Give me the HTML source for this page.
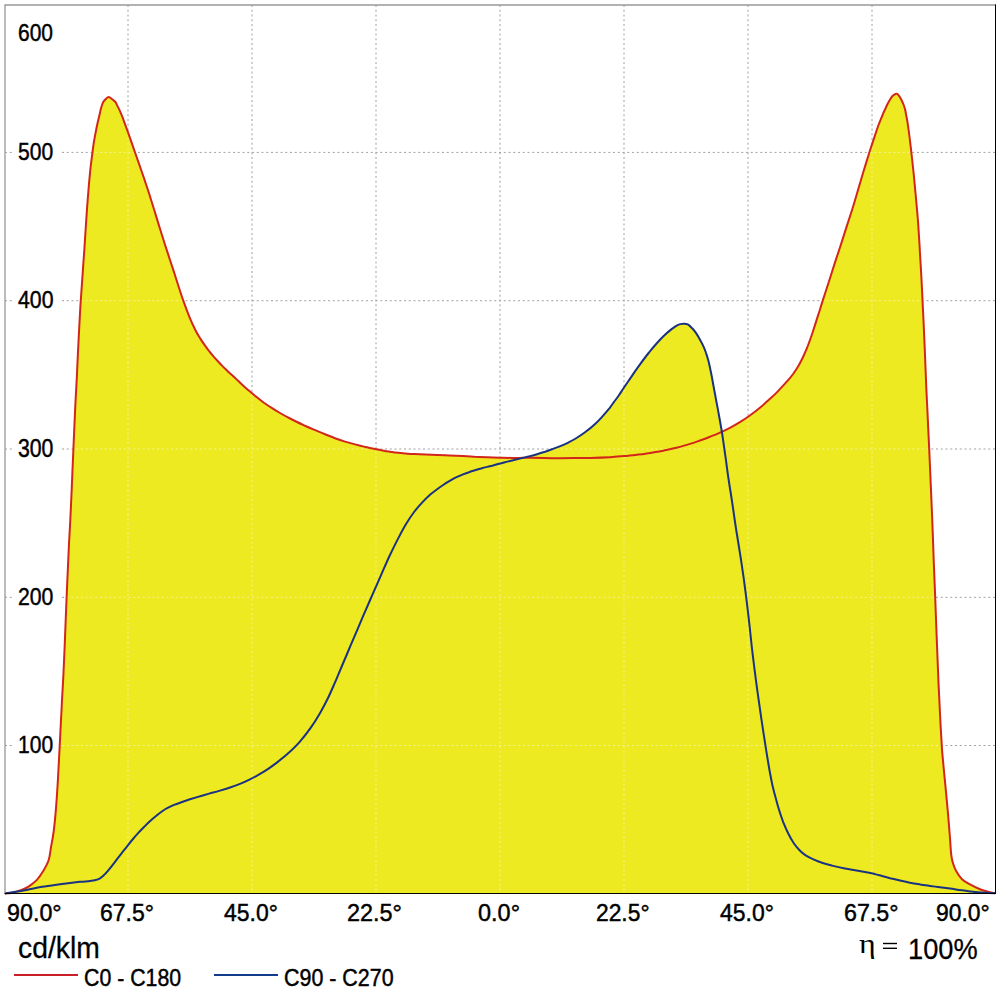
<!DOCTYPE html>
<html><head><meta charset="utf-8"><style>
html,body{margin:0;padding:0;background:#fff;width:1001px;height:1001px;overflow:hidden}
svg{position:absolute;left:0;top:0}
.t{position:absolute;font-family:"Liberation Sans",sans-serif;line-height:1;white-space:pre;color:#000;transform-origin:0 0;-webkit-text-stroke:0.45px #000}
</style></head><body>
<svg width="1001" height="1001" viewBox="0 0 1001 1001">
<g stroke="#A0A0A0" stroke-width="1" stroke-dasharray="2 2.75" fill="none">
<line x1="5.0" y1="152.4" x2="995.0" y2="152.4"/>
<line x1="5.0" y1="300.7" x2="995.0" y2="300.7"/>
<line x1="5.0" y1="449.0" x2="995.0" y2="449.0"/>
<line x1="5.0" y1="597.3" x2="995.0" y2="597.3"/>
<line x1="5.0" y1="745.5" x2="995.0" y2="745.5"/>
<line x1="128" y1="5.0" x2="128" y2="893.4"/>
<line x1="252" y1="5.0" x2="252" y2="893.4"/>
<line x1="376" y1="5.0" x2="376" y2="893.4"/>
<line x1="500" y1="5.0" x2="500" y2="893.4"/>
<line x1="624" y1="5.0" x2="624" y2="893.4"/>
<line x1="748" y1="5.0" x2="748" y2="893.4"/>
<line x1="872" y1="5.0" x2="872" y2="893.4"/>
</g>
<rect x="13" y="736.3" width="48" height="18" fill="#fff"/>
<rect x="13" y="588.3" width="48" height="18" fill="#fff"/>
<rect x="13" y="440.2" width="48" height="18" fill="#fff"/>
<rect x="13" y="292.1" width="48" height="18" fill="#fff"/>
<rect x="13" y="144.1" width="48" height="18" fill="#fff"/>
<defs><path id="rc" d="M5.0,893.4C6.17,893.28 9.23,893.28 12.0,892.7C14.77,892.12 18.78,890.97 21.6,889.9C24.42,888.83 26.38,887.95 28.9,886.3C31.48,884.60 34.54,882.39 36.9,879.9C39.30,877.33 41.25,874.36 43.2,871.1C45.15,867.84 47.30,864.28 48.6,860.3C49.90,856.32 50.21,851.58 51.0,847.2C51.79,842.82 52.67,838.59 53.3,834.0C54.00,829.39 54.50,824.58 55.0,819.6C55.50,814.58 55.86,810.60 56.3,804.0C56.82,797.40 57.37,788.98 57.9,780.0C58.41,770.98 58.94,760.00 59.5,750.0C59.98,740.01 60.61,728.35 61.0,720.0C61.47,711.68 61.65,707.50 62.0,700.0C62.43,692.49 62.97,683.33 63.4,675.0C63.79,666.66 64.18,658.33 64.5,650.0C64.88,641.67 65.17,633.33 65.5,625.0C65.82,616.67 66.10,609.52 66.5,600.0C66.89,590.48 67.47,577.25 67.9,567.9C68.31,558.55 68.64,551.88 69.0,543.9C69.43,535.91 69.87,527.99 70.3,520.0C70.66,512.02 71.05,504.00 71.4,496.0C71.78,487.99 72.12,479.82 72.4,472.0C72.78,464.16 73.08,456.69 73.4,449.0C73.72,441.33 74.04,433.75 74.4,425.9C74.74,418.05 75.10,409.90 75.5,401.9C75.89,393.90 76.35,385.90 76.8,377.9C77.16,369.90 77.54,361.89 77.9,353.9C78.32,345.92 78.68,337.98 79.1,330.0C79.52,322.01 80.04,312.67 80.4,306.0C80.85,299.35 81.16,295.28 81.5,290.0C81.87,284.74 82.11,281.24 82.6,274.4C83.06,267.53 83.81,256.82 84.4,248.9C84.89,240.96 85.33,233.89 85.8,226.8C86.28,219.73 86.70,213.19 87.2,206.4C87.70,199.62 88.25,192.32 88.8,186.1C89.32,179.88 89.79,174.75 90.4,169.1C91.02,163.43 91.90,156.67 92.5,152.1C93.08,147.61 93.28,145.93 93.9,141.9C94.61,137.88 95.84,131.30 96.5,128.0C97.14,124.67 97.36,124.14 97.8,122.0C98.34,119.88 98.93,117.35 99.4,115.2C99.93,113.06 100.32,111.12 100.8,109.1C101.38,107.18 101.91,104.96 102.6,103.4C103.29,101.84 104.00,100.87 105.0,99.8C106.00,98.73 107.40,97.10 108.6,97.0C109.80,96.90 111.07,98.37 112.2,99.2C113.33,100.03 114.62,101.05 115.4,102.0C116.18,102.95 116.23,103.60 116.9,104.9C117.52,106.15 118.49,107.92 119.3,109.6C120.09,111.38 120.87,113.26 121.7,115.2C122.48,117.24 122.78,117.95 124.1,121.6C125.46,125.26 128.00,132.36 129.7,137.2C131.41,141.96 132.75,145.83 134.3,150.4C135.94,155.00 137.69,160.09 139.3,164.7C140.88,169.26 142.36,173.31 143.9,177.9C145.49,182.54 147.54,188.82 148.7,192.3C149.84,195.85 149.68,195.31 150.8,199.0C151.98,202.67 153.99,209.24 155.6,214.4C157.17,219.58 158.74,224.82 160.4,230.0C161.98,235.21 163.70,240.57 165.3,245.6C166.92,250.56 168.45,255.20 170.0,260.0C171.58,264.79 173.15,269.53 174.7,274.3C176.25,279.13 177.90,284.40 179.3,288.8C180.76,293.18 181.57,295.91 183.3,300.7C184.99,305.43 187.51,312.37 189.6,317.3C191.63,322.32 193.85,327.00 195.6,330.5C197.42,334.07 198.59,335.88 200.3,338.6C201.96,341.24 204.16,344.36 205.8,346.6C207.35,348.84 208.48,350.31 209.8,352.0C211.21,353.72 212.56,355.27 213.9,356.9C215.31,358.43 216.76,360.04 218.1,361.5C219.45,362.96 220.67,364.26 222.0,365.6C223.30,366.96 224.66,368.33 226.0,369.6C227.32,370.88 228.58,372.02 229.9,373.3C231.30,374.50 232.83,375.83 234.1,377.0C235.46,378.26 236.56,379.35 237.8,380.6C239.13,381.79 240.14,382.79 241.9,384.4C243.57,385.94 245.80,387.97 248.1,390.0C250.50,392.07 253.33,394.54 256.0,396.6C258.60,398.75 261.26,400.76 263.9,402.7C266.63,404.59 269.38,406.40 272.1,408.1C274.73,409.84 277.35,411.43 280.0,413.0C282.66,414.54 285.33,416.01 288.0,417.4C290.64,418.85 293.28,420.17 296.0,421.5C298.64,422.79 301.38,424.07 304.1,425.3C306.73,426.51 309.36,427.64 312.0,428.8C314.65,429.94 317.75,431.29 319.9,432.2C322.08,433.12 322.49,433.29 325.0,434.3C327.53,435.28 331.71,436.97 335.0,438.2C338.37,439.40 341.65,440.52 345.0,441.6C348.31,442.60 351.69,443.53 355.0,444.4C358.36,445.30 361.66,446.10 365.0,446.9C368.31,447.65 371.64,448.41 375.0,449.1C378.32,449.75 381.68,450.33 385.0,450.9C388.35,451.48 391.66,452.11 395.0,452.5C398.33,452.94 401.67,453.14 405.0,453.4C408.35,453.66 411.59,453.91 415.0,454.1C418.45,454.31 420.58,454.40 425.6,454.6C430.58,454.80 438.78,455.06 445.0,455.3C451.25,455.55 458.00,455.84 463.0,456.1C467.99,456.32 470.99,456.57 475.0,456.8C479.00,456.94 482.84,457.03 487.0,457.2C491.18,457.37 495.84,457.64 500.0,457.8C504.17,457.87 508.67,457.87 512.0,457.9C515.33,457.90 517.00,457.88 520.0,457.9C523.00,457.86 524.67,457.77 530.0,457.8C535.33,457.87 544.67,458.11 552.0,458.2C559.33,458.20 567.60,458.13 574.0,458.1C580.40,458.04 584.38,458.04 590.4,457.9C596.39,457.74 604.35,457.47 610.0,457.2C615.68,456.88 619.88,456.54 624.4,456.1C628.88,455.71 632.66,455.24 637.0,454.7C641.37,454.16 646.02,453.61 650.5,452.9C655.01,452.20 659.48,451.35 664.0,450.5C668.45,449.55 672.95,448.64 677.4,447.5C681.90,446.35 687.07,444.76 690.8,443.6C694.60,442.42 696.81,441.61 700.0,440.5C703.23,439.31 706.79,437.99 710.1,436.7C713.44,435.38 716.67,434.12 720.0,432.6C723.28,431.16 726.63,429.54 729.9,427.8C733.27,426.06 736.51,424.30 739.9,422.2C743.27,420.14 746.89,417.70 750.2,415.3C753.55,412.91 756.34,410.79 759.9,407.8C763.40,404.88 768.52,400.21 771.4,397.6C774.27,394.97 775.24,394.01 777.1,392.1C778.99,390.22 780.81,388.22 782.6,386.2C784.47,384.25 786.37,382.27 788.1,380.2C789.85,378.18 791.54,376.05 793.1,374.0C794.60,371.90 795.99,369.87 797.3,367.8C798.57,365.71 799.66,363.73 800.8,361.5C801.97,359.29 803.17,356.80 804.2,354.5C805.28,352.13 806.22,349.85 807.2,347.5C808.09,345.19 808.95,342.94 809.8,340.5C810.73,338.01 811.15,336.83 812.5,332.7C813.85,328.64 816.42,320.72 817.9,315.9C819.48,311.11 820.43,307.88 821.7,303.9C822.95,299.92 824.14,296.27 825.5,292.0C826.88,287.80 828.44,283.01 829.9,278.5C831.34,273.98 832.66,269.67 834.2,264.9C835.72,260.19 837.82,253.87 839.1,250.1C840.33,246.25 840.53,245.82 841.7,242.1C842.94,238.33 844.57,233.04 846.3,227.6C848.05,222.18 850.21,215.76 852.2,209.5C854.12,203.22 856.21,196.05 858.0,190.0C859.84,183.89 861.15,179.27 863.0,173.0C864.95,166.72 867.51,158.36 869.4,152.3C871.31,146.29 872.94,141.33 874.5,136.8C875.98,132.24 877.45,128.00 878.5,125.0C879.60,122.09 880.14,120.99 880.9,119.0C881.69,117.10 882.41,115.20 883.2,113.4C883.96,111.58 884.79,109.86 885.6,108.2C886.37,106.52 887.11,104.88 887.9,103.3C888.72,101.82 889.59,100.26 890.4,99.0C891.21,97.74 891.77,96.67 892.8,95.8C893.83,94.93 895.53,93.73 896.6,93.8C897.67,93.87 898.37,95.13 899.2,96.2C900.03,97.27 900.85,98.74 901.6,100.2C902.35,101.66 903.08,103.37 903.7,105.0C904.27,106.57 904.78,108.26 905.2,109.8C905.56,111.36 905.67,112.40 906.0,114.3C906.38,116.14 906.86,118.40 907.3,121.0C907.73,123.63 908.10,125.98 908.6,130.0C909.17,133.98 909.93,140.02 910.5,145.0C911.12,150.02 911.66,155.00 912.2,160.0C912.75,164.99 913.30,169.99 913.8,175.0C914.30,179.99 914.74,185.00 915.2,190.0C915.68,195.00 916.16,200.01 916.6,205.0C917.05,210.01 917.50,214.99 917.9,220.0C918.28,224.99 918.59,229.67 918.9,235.0C919.27,240.34 919.53,244.93 919.9,252.0C920.35,259.09 920.96,269.49 921.4,277.5C921.81,285.49 922.13,292.50 922.5,300.0C922.86,307.50 923.20,315.01 923.6,322.5C923.90,330.01 924.27,337.50 924.6,345.0C924.91,352.49 925.19,360.00 925.5,367.5C925.79,375.00 926.11,383.25 926.4,390.0C926.71,396.75 926.98,401.66 927.3,408.0C927.59,414.33 927.90,421.18 928.2,428.0C928.54,434.82 928.76,438.92 929.2,448.9C929.66,458.89 930.39,475.40 930.9,487.9C931.46,500.40 931.95,511.90 932.4,523.9C932.88,535.90 933.26,547.67 933.7,559.9C934.18,572.14 934.65,583.95 935.2,597.3C935.67,610.65 936.21,625.39 936.8,640.0C937.37,654.59 938.05,671.66 938.6,684.9C939.22,698.16 939.81,710.48 940.3,719.5C940.74,728.50 941.09,733.57 941.4,739.0C941.74,744.40 941.80,746.59 942.2,752.0C942.67,757.39 943.39,764.91 944.0,771.4C944.61,777.89 945.29,784.41 945.9,790.9C946.53,797.41 947.12,803.55 947.7,810.4C948.33,817.25 949.09,826.41 949.5,832.0C949.99,837.61 950.12,840.27 950.4,844.0C950.68,847.73 950.83,851.40 951.2,854.4C951.57,857.40 951.80,859.27 952.6,862.0C953.40,864.73 954.43,867.93 956.0,870.8C957.57,873.67 959.67,876.93 962.0,879.2C964.33,881.47 967.00,882.73 970.0,884.4C973.00,886.07 976.67,887.90 980.0,889.2C983.33,890.50 987.50,891.53 990.0,892.2C992.50,892.87 994.17,893.03 995.0,893.2"/><path id="bc" d="M5.0,893.4C7.17,893.08 14.23,892.12 18.0,891.5C21.77,890.88 23.58,890.48 27.6,889.7C31.62,888.92 36.71,887.72 42.1,886.8C47.50,885.90 53.69,885.08 60.0,884.2C66.29,883.42 74.91,882.35 79.9,881.8C84.91,881.30 86.99,881.50 90.0,881.1C93.01,880.70 95.83,880.27 98.0,879.4C100.17,878.53 101.35,877.33 103.0,875.9C104.65,874.47 106.21,872.78 107.9,870.8C109.64,868.86 111.60,866.29 113.3,864.1C114.97,862.00 116.46,860.00 118.0,857.9C119.63,855.87 121.13,853.89 122.8,851.7C124.48,849.60 126.39,847.20 128.1,845.1C129.78,842.94 131.30,840.97 133.0,839.0C134.64,836.98 136.26,835.09 138.1,833.1C139.94,831.10 142.06,828.98 144.0,827.0C145.97,825.06 147.86,823.18 149.9,821.3C151.85,819.50 153.92,817.65 156.0,816.0C158.03,814.29 160.15,812.63 162.2,811.2C164.19,809.87 166.13,808.72 168.1,807.7C170.06,806.61 171.98,805.75 174.0,804.9C175.95,804.08 177.34,803.58 180.0,802.7C182.70,801.72 186.71,800.38 190.0,799.3C193.37,798.26 196.68,797.28 200.0,796.3C203.32,795.32 206.64,794.39 210.0,793.4C213.32,792.49 216.70,791.60 220.0,790.6C223.37,789.62 226.68,788.63 230.0,787.5C233.33,786.40 236.63,785.25 240.0,783.9C243.29,782.56 246.63,781.08 250.0,779.4C253.29,777.76 256.93,775.70 260.0,773.9C263.00,772.17 265.41,770.68 268.2,768.8C270.92,767.00 273.21,765.43 276.5,762.9C279.77,760.34 284.00,757.08 287.9,753.6C291.73,750.04 295.88,746.09 299.7,741.8C303.52,737.45 307.38,732.46 310.8,727.6C314.19,722.83 317.37,717.59 320.1,712.9C322.91,708.13 325.10,703.96 327.4,699.3C329.73,694.58 331.99,689.35 334.0,684.7C336.07,680.08 338.07,675.18 339.6,671.5C341.20,667.77 341.67,666.68 343.4,662.5C345.23,658.27 348.01,651.68 350.3,646.2C352.62,640.79 355.05,635.03 357.3,629.8C359.49,624.57 361.49,619.85 363.6,614.9C365.79,609.90 368.24,604.32 370.1,600.0C372.06,595.61 373.08,593.33 375.1,588.7C377.10,584.15 379.79,577.86 382.2,572.4C384.60,566.95 386.80,561.82 389.5,556.0C392.26,550.22 395.84,542.91 398.6,537.6C401.31,532.30 403.36,528.44 405.9,524.2C408.53,519.90 411.38,515.59 414.1,512.0C416.82,508.35 419.62,505.29 422.3,502.4C424.92,499.58 427.43,497.10 430.0,494.8C432.60,492.53 435.25,490.55 437.8,488.7C440.28,486.86 442.88,485.17 445.1,483.7C447.30,482.30 449.02,481.26 451.0,480.1C453.00,478.98 455.05,477.86 457.1,476.9C459.05,475.95 461.01,475.18 463.0,474.4C464.98,473.61 466.95,472.87 469.0,472.2C470.96,471.48 473.00,470.86 475.0,470.2C477.02,469.62 479.02,469.02 481.0,468.5C483.01,467.90 484.99,467.37 487.0,466.9C488.99,466.37 491.02,465.96 493.0,465.5C495.01,464.94 496.96,464.36 499.0,463.8C500.95,463.29 502.77,462.79 505.0,462.2C507.15,461.69 508.93,461.28 512.1,460.5C515.27,459.74 521.17,458.30 524.0,457.6C526.78,456.93 526.77,456.96 528.9,456.4C531.12,455.83 534.33,455.01 537.0,454.2C539.70,453.47 542.40,452.65 545.1,451.8C547.72,450.88 550.32,449.90 553.0,448.9C555.62,447.94 558.58,446.85 560.9,445.9C563.31,444.91 564.84,444.23 567.2,443.1C569.49,441.95 571.92,440.85 574.9,439.0C577.87,437.25 581.50,434.94 585.0,432.3C588.51,429.67 592.73,426.21 595.9,423.2C599.15,420.26 602.01,416.93 604.2,414.4C606.48,411.95 607.72,410.36 609.4,408.3C610.98,406.19 612.49,404.03 614.0,401.9C615.58,399.83 617.11,397.83 618.6,395.7C620.10,393.52 621.59,391.16 623.0,389.0C624.47,386.88 625.89,384.80 627.2,382.8C628.57,380.81 628.95,380.12 631.1,377.1C633.20,373.98 637.00,368.48 640.0,364.4C642.96,360.29 646.12,356.03 649.0,352.5C651.79,348.90 654.47,345.84 657.0,343.0C659.54,340.17 661.77,337.73 664.2,335.5C666.55,333.21 669.03,331.22 671.3,329.4C673.64,327.66 675.96,325.76 678.0,324.8C680.04,323.84 681.97,323.77 683.6,323.7C685.23,323.63 686.41,323.69 687.8,324.4C689.19,325.11 690.63,326.65 691.9,328.0C693.22,329.33 694.42,330.86 695.6,332.4C696.71,334.04 697.63,335.53 698.8,337.5C699.95,339.50 701.30,341.81 702.5,344.4C703.72,346.90 704.99,349.72 706.0,352.8C707.11,355.85 708.01,359.37 708.9,362.7C709.70,366.12 710.36,369.34 711.1,373.0C711.86,376.74 712.51,380.44 713.3,384.9C714.18,389.42 715.18,394.97 716.1,400.0C717.05,404.99 717.98,409.67 718.9,415.0C719.89,420.35 720.93,426.19 721.9,432.0C722.79,437.86 723.80,445.03 724.5,450.0C725.23,455.00 725.61,457.95 726.2,461.9C726.70,465.95 727.23,469.99 727.8,474.0C728.39,478.01 729.01,482.03 729.6,486.0C730.25,490.02 730.93,493.98 731.5,498.0C732.15,501.98 732.70,506.02 733.3,510.0C733.86,514.02 734.55,518.66 735.0,522.0C735.53,525.32 735.55,525.68 736.2,530.0C736.91,534.31 738.11,541.43 739.1,547.9C740.15,554.33 741.37,562.00 742.3,568.7C743.33,575.36 744.15,581.40 745.0,588.0C745.87,594.50 746.75,601.48 747.5,608.0C748.31,614.49 748.93,620.32 749.7,627.0C750.40,633.66 751.14,640.99 751.9,648.0C752.75,655.02 753.69,662.64 754.5,669.1C755.30,675.54 755.98,680.84 756.8,686.7C757.58,692.57 758.35,697.89 759.3,704.3C760.19,710.69 761.28,718.17 762.3,725.1C763.35,732.05 764.51,739.78 765.5,745.9C766.44,752.06 767.30,757.27 768.1,762.0C768.87,766.63 769.43,770.00 770.2,774.0C770.94,778.01 771.71,782.00 772.6,786.0C773.53,789.99 774.57,793.98 775.7,798.0C776.73,801.99 777.84,806.02 779.1,810.0C780.37,814.04 781.71,818.10 783.2,822.1C784.79,826.02 786.61,830.27 788.4,833.8C790.14,837.36 791.93,840.56 793.8,843.3C795.73,846.13 797.79,848.53 799.8,850.5C801.75,852.54 803.33,853.82 805.7,855.4C808.08,856.88 811.03,858.38 814.0,859.7C816.96,861.04 820.49,862.34 823.5,863.3C826.50,864.31 828.44,864.76 832.0,865.6C835.61,866.47 841.19,867.68 845.0,868.4C848.84,869.21 851.63,869.60 855.0,870.2C858.29,870.79 861.66,871.36 865.0,872.0C868.33,872.67 871.98,873.43 875.0,874.1C877.96,874.84 880.43,875.58 882.9,876.2C885.46,876.92 887.21,877.42 890.1,878.2C892.91,878.89 896.72,879.88 900.0,880.6C903.35,881.41 906.64,882.12 910.0,882.8C913.30,883.38 916.66,883.89 920.0,884.4C923.34,884.94 927.02,885.46 930.0,885.9C933.01,886.32 935.32,886.63 938.0,887.0C940.65,887.35 943.33,887.67 946.0,888.0C948.66,888.39 951.33,888.76 954.0,889.1C956.66,889.53 959.33,889.97 962.0,890.3C964.66,890.72 967.34,891.08 970.0,891.4C972.68,891.73 975.34,892.07 978.0,892.3C980.66,892.53 983.17,892.65 986.0,892.8C988.83,892.95 993.50,893.13 995.0,893.2"/></defs>
<use href="#rc" fill="#EEEA22"/>
<use href="#bc" fill="#EEEA22"/>
<defs><clipPath id="fc"><use href="#rc"/><use href="#bc"/></clipPath></defs>
<g stroke="#F8F6C0" stroke-width="1" stroke-dasharray="2 2.75" fill="none" opacity="0.7" clip-path="url(#fc)">
<line x1="5.0" y1="152.4" x2="995.0" y2="152.4"/>
<line x1="5.0" y1="300.7" x2="995.0" y2="300.7"/>
<line x1="5.0" y1="449.0" x2="995.0" y2="449.0"/>
<line x1="5.0" y1="597.3" x2="995.0" y2="597.3"/>
<line x1="5.0" y1="745.5" x2="995.0" y2="745.5"/>
<line x1="128" y1="5.0" x2="128" y2="893.4"/>
<line x1="252" y1="5.0" x2="252" y2="893.4"/>
<line x1="376" y1="5.0" x2="376" y2="893.4"/>
<line x1="500" y1="5.0" x2="500" y2="893.4"/>
<line x1="624" y1="5.0" x2="624" y2="893.4"/>
<line x1="748" y1="5.0" x2="748" y2="893.4"/>
<line x1="872" y1="5.0" x2="872" y2="893.4"/>
</g>
<use href="#rc" fill="none" stroke="#D2261C" stroke-width="2" stroke-linejoin="round"/>
<use href="#bc" fill="none" stroke="#1A3282" stroke-width="2" stroke-linejoin="round"/>
<line x1="5" y1="5" x2="5" y2="893" stroke="#989898" stroke-width="1.3"/>
<line x1="4.4" y1="5" x2="995.5" y2="5" stroke="#989898" stroke-width="1.3"/>
<line x1="995.5" y1="4.4" x2="995.5" y2="894" stroke="#000" stroke-width="1"/>
<line x1="4.4" y1="893.5" x2="996" y2="893.5" stroke="#000" stroke-width="1"/>
<line x1="14" y1="975" x2="78" y2="975" stroke="#CC2028" stroke-width="2"/>
<line x1="214" y1="975" x2="278" y2="975" stroke="#143C8C" stroke-width="2"/>
<line x1="883" y1="943.5" x2="897" y2="943.5" stroke="#000" stroke-width="1.4"/>
<line x1="883" y1="948.3" x2="897" y2="948.3" stroke="#000" stroke-width="1.4"/>
</svg>
<div class="t" style="left:18.03px;top:21.00px;font-size:24px;transform:scale(0.8744,1.0000)">600</div>
<div class="t" style="left:18.12px;top:139.94px;font-size:24px;transform:scale(0.8769,0.9882)">500</div>
<div class="t" style="left:17.80px;top:288.08px;font-size:24px;transform:scale(0.8850,1.0059)">400</div>
<div class="t" style="left:17.82px;top:435.88px;font-size:24px;transform:scale(0.8846,1.0412)">300</div>
<div class="t" style="left:17.82px;top:585.14px;font-size:24px;transform:scale(0.8846,0.9882)">200</div>
<div class="t" style="left:18.15px;top:733.14px;font-size:24px;transform:scale(0.8763,0.9882)">100</div>
<div class="t" style="left:7.03px;top:901.40px;font-size:24px;transform:scale(0.9704,1.0000)">90.0°</div>
<div class="t" style="left:100.04px;top:901.40px;font-size:24px;transform:scale(0.9574,1.0000)">67.5°</div>
<div class="t" style="left:223.80px;top:901.40px;font-size:24px;transform:scale(0.9564,1.0000)">45.0°</div>
<div class="t" style="left:347.42px;top:901.40px;font-size:24px;transform:scale(0.9759,1.0000)">22.5°</div>
<div class="t" style="left:478.22px;top:901.40px;font-size:24px;transform:scale(0.9780,1.0000)">0.0°</div>
<div class="t" style="left:595.85px;top:901.40px;font-size:24px;transform:scale(0.9500,1.0000)">22.5°</div>
<div class="t" style="left:720.00px;top:901.40px;font-size:24px;transform:scale(0.9564,1.0000)">45.0°</div>
<div class="t" style="left:843.83px;top:901.40px;font-size:24px;transform:scale(0.9685,1.0000)">67.5°</div>
<div class="t" style="left:936.35px;top:901.40px;font-size:24px;transform:scale(0.9537,1.0000)">90.0°</div>
<div class="t" style="left:18.49px;top:934.42px;font-size:28px;-webkit-text-stroke-width:0.25px;transform:scale(1.0115,1.0250)">cd/klm</div>
<div class="t" style="left:858.86px;top:930.92px;font-size:28px;font-family:'Liberation Serif',serif;-webkit-text-stroke-width:0;transform:scale(1.1417,0.9579)">η</div>
<div class="t" style="left:908.26px;top:933.71px;font-size:28px;-webkit-text-stroke-width:0.25px;transform:scale(0.9725,1.0737)">100%</div>
<div class="t" style="left:84.01px;top:966.07px;font-size:24px;transform:scale(0.8880,0.9765)">C0 - C180</div>
<div class="t" style="left:284.11px;top:966.07px;font-size:24px;transform:scale(0.8926,0.9765)">C90 - C270</div>
</body></html>
